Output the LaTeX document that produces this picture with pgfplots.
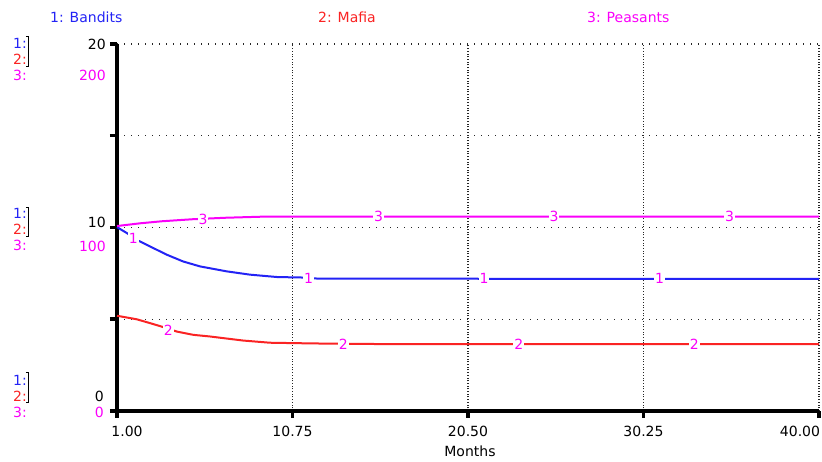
\documentclass[border=0pt]{standalone}
\usepackage{pgfplots}
\pgfplotsset{compat=1.18}
\usepackage{fontspec}
\setmainfont{DejaVu Sans}
\definecolor{cB}{RGB}{35,35,245}
\definecolor{cR}{RGB}{250,35,35}
\definecolor{cM}{RGB}{250,0,250}

\pgfplotstableread{
m v
1.00 10.02
1.54 9.70
2.19 9.28
2.83 8.97
3.76 8.52
4.67 8.15
5.61 7.88
7.09 7.61
8.39 7.43
9.90 7.30
11.50 7.27
12.20 7.21
40.00 7.20
}\bandits
\pgfplotstableread{
m v
1.00 5.19
2.09 5.00
2.83 4.79
3.48 4.60
4.32 4.33
5.24 4.15
6.17 4.06
8.00 3.84
9.50 3.72
12.00 3.68
15.40 3.65
40.00 3.64
}\mafia
\pgfplotstableread{
m v
1.00 100.8
2.30 102.3
3.50 103.4
5.20 104.5
7.00 105.3
9.10 105.9
40.00 105.9
}\peasants

\begin{document}
\begin{tikzpicture}
\fontsize{14}{16}\selectfont
\useasboundingbox (-117pt,-51pt) rectangle (705pt,411pt);
\begin{axis}[
  at={(0pt,0pt)}, anchor=south west,
  scale only axis, width=702pt, height=367pt,
  xmin=1, xmax=40, ymin=0, ymax=20,
  axis x line=bottom, axis y line=left,
  axis line style={-, line width=3.5pt, black},
  xtick={1,10.75,20.5,30.25,40},
  xticklabels={\hspace*{20pt}1.00,10.75,20.50,30.25,40.00\hspace*{38pt}},
  xticklabel style={font=\fontsize{14}{16}\selectfont, anchor=north, yshift=-3pt},
  ytick={0,5,10,15,20}, yticklabels={},
  tick align=outside, major tick length=7pt,
  every tick/.style={black, line width=3.5pt},
  grid=major,
  x grid style={black!85, line width=1.2pt, dash pattern=on 1pt off 1.7pt},
  y grid style={black!85, line width=1.4pt, dash pattern=on 1.4pt off 5.6pt},
  clip=false,
]
\addplot[cB, line width=2pt] table[x=m,y=v] {\bandits};
\addplot[cR, line width=2pt] table[x=m,y=v] {\mafia};
\begin{scope}[every node/.style={text=cM, fill=white, inner sep=1pt, font=\fontsize{14}{16}\selectfont}]
\node at (axis cs:1.91,9.41) {1};
\node at (axis cs:11.64,7.20) {1};
\node at (axis cs:21.39,7.20) {1};
\node at (axis cs:31.14,7.20) {1};
\node at (axis cs:3.85,4.41) {2};
\node at (axis cs:13.58,3.64) {2};
\node at (axis cs:23.33,3.64) {2};
\node at (axis cs:33.08,3.64) {2};
\end{scope}
\end{axis}
\begin{axis}[
  at={(0pt,0pt)}, anchor=south west,
  scale only axis, width=702pt, height=367pt,
  xmin=1, xmax=40, ymin=0, ymax=200,
  hide axis, clip=false,
]
\addplot[cM, line width=2pt] table[x=m,y=v] {\peasants};
\begin{scope}[every node/.style={text=cM, fill=white, inner sep=1pt, font=\fontsize{14}{16}\selectfont}]
\node at (axis cs:5.78,104.5) {3};
\node at (axis cs:15.53,105.9) {3};
\node at (axis cs:25.28,105.9) {3};
\node at (axis cs:35.03,105.9) {3};
\end{scope}
\end{axis}
\begin{scope}[shift={(-117pt,-51pt)}, x=1pt, y=1pt]
% legend titles
\node[anchor=west, text=cB, inner sep=0] at (50,445) {1: Bandits};
\node[anchor=west, text=cR, inner sep=0] at (318,445) {2: Mafia};
\node[anchor=west, text=cM, inner sep=0] at (587,445) {3: Peasants};
% left scale labels
\node[anchor=east, inner sep=0] at (106,418) {20};
\node[anchor=east, inner sep=0, text=cM] at (106,387) {200};
\node[anchor=east, inner sep=0] at (106,240) {10};
\node[anchor=east, inner sep=0, text=cM] at (106,216) {100};
\node[anchor=east, inner sep=0] at (104,66) {0};
\node[anchor=east, inner sep=0, text=cM] at (104,50) {0};
% series keys on the left
\foreach \yy/\ba/\bb in {419/425/395, 249/254/225, 82/89/59} {
  \node[anchor=west, inner sep=0, text=cB] at (13,\yy) {1:};
  \node[anchor=west, inner sep=0, text=cR] at (13,\yy-16) {2:};
  \node[anchor=west, inner sep=0, text=cM] at (13,\yy-32) {3:};
  \draw[black, line width=1pt] (26,\ba) -- (29,\ba) -- (29,\bb) -- (26,\bb);
}
\node[inner sep=0] at (470,11) {Months};
\end{scope}
\end{tikzpicture}
\end{document}
